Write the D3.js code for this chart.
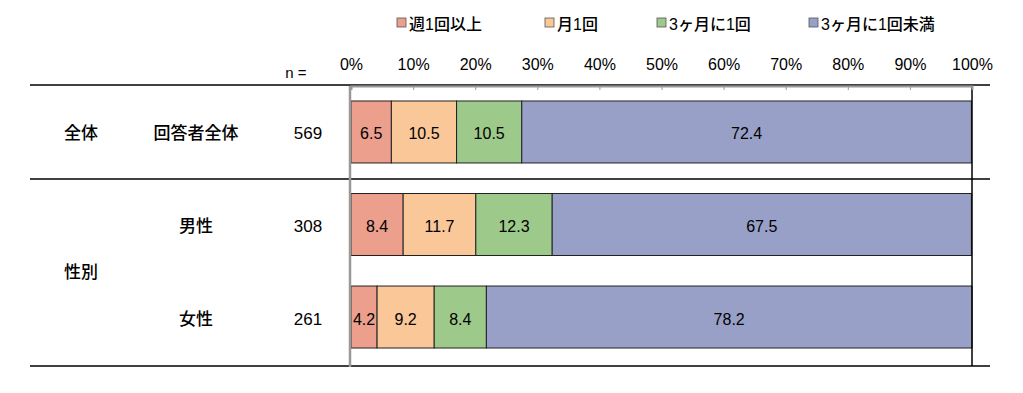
<!DOCTYPE html>
<html>
<head>
<meta charset="utf-8">
<script src="https://cdn.jsdelivr.net/npm/d3@7"></script>
<style>
  body { margin: 0; background: #fff; }
  text { font-family: "Liberation Sans", Arial, "Noto Sans CJK JP", sans-serif; fill: #000; }
  .jp { font-family: "Liberation Sans", "Noto Sans CJK JP", sans-serif; font-weight: 500; }
</style>
</head>
<body>
<div id="chart"></div>
<script>
const categories = ["週1回以上", "月1回", "3ヶ月に1回", "3ヶ月に1回未満"];
const rowKeys = ["all", "male", "female"];
const rowGroups = ["全体", "", ""];
const rowLabels = ["回答者全体", "男性", "女性"];
const rowN = [569, 308, 261];
const weekly = [6.5, 8.4, 4.2];
const monthly = [10.5, 11.7, 9.2];
const quarterly = [10.5, 12.3, 8.4];
const lessQuarterly = [72.4, 67.5, 78.2];
const tickValues = [0, 10, 20, 30, 40, 50, 60, 70, 80, 90, 100];

const width = 1023, height = 393;
const plot = { left: 351, right: 972, top: 86, bottom: 367 };

const svg = d3.select("#chart").append("svg")
  .attr("width", width).attr("height", height);

const color = d3.scaleOrdinal()
  .domain(categories)
  .range(["#eb9f8c", "#f9c798", "#9dc98a", "#99a0c8"]);

const x = d3.scaleLinear().domain([0, 100]).range([plot.left, plot.right]);
const y = d3.scaleBand().domain(rowKeys).range([plot.top, 363])
  .paddingInner(0.33).paddingOuter(0.162);

const data = rowKeys.map((k, i) => ({
  key: k,
  [categories[0]]: weekly[i],
  [categories[1]]: monthly[i],
  [categories[2]]: quarterly[i],
  [categories[3]]: lessQuarterly[i]
}));
const series = d3.stack().keys(categories)(data);

// table lines
[85, 179, 366].forEach(yy => {
  svg.append("line").attr("x1", 30).attr("x2", 990)
    .attr("y1", yy).attr("y2", yy)
    .attr("stroke", "#000").attr("stroke-width", 1.5);
});

// bars
series.forEach(s => {
  svg.append("g").selectAll("rect").data(s).join("rect")
    .attr("x", d => x(d[0]))
    .attr("y", d => y(d.data.key))
    .attr("width", d => x(d[1]) - x(d[0]))
    .attr("height", y.bandwidth())
    .attr("fill", color(s.key))
    .attr("stroke", "#222").attr("stroke-width", 1);
  svg.append("g").selectAll("text").data(s).join("text")
    .attr("x", d => (x(d[0]) + x(d[1])) / 2)
    .attr("y", d => y(d.data.key) + y.bandwidth() / 2 + 2)
    .attr("text-anchor", "middle").attr("dominant-baseline", "central")
    .style("font-size", "16px")
    .text(d => (d[1] - d[0]).toFixed(1));
});

// right border
svg.append("line").attr("x1", plot.right).attr("x2", plot.right)
  .attr("y1", plot.top).attr("y2", plot.bottom - 1)
  .attr("stroke", "#000").attr("stroke-width", 1.5);

// top axis
const axis = svg.append("g").attr("transform", `translate(0,${plot.top})`)
  .call(d3.axisTop(x).tickValues(tickValues).tickSize(-4).tickFormat(d => d + "%"));
axis.select(".domain").attr("stroke", "#999").attr("stroke-width", 2);
axis.selectAll(".tick line").attr("stroke", "#999");
axis.selectAll("text").style("font-size", "16px").attr("y", -16);

// left axis line
svg.append("line").attr("x1", plot.left - 1).attr("x2", plot.left - 1)
  .attr("y1", plot.top).attr("y2", plot.bottom)
  .attr("stroke", "#999").attr("stroke-width", 2.5);

// n header
svg.append("text").attr("x", 296).attr("y", 78)
  .attr("text-anchor", "middle").style("font-size", "15px").text("n =");

// row labels
rowKeys.forEach((k, i) => {
  const cy = y(k) + y.bandwidth() / 2 + 2;
  if (rowGroups[i]) {
    svg.append("text").attr("class", "jp").attr("x", 81).attr("y", cy)
      .attr("text-anchor", "middle").attr("dominant-baseline", "central")
      .style("font-size", "17px").text(rowGroups[i]);
  }
  svg.append("text").attr("class", "jp").attr("x", 196).attr("y", cy)
    .attr("text-anchor", "middle").attr("dominant-baseline", "central")
    .style("font-size", "17px").text(rowLabels[i]);
  svg.append("text").attr("x", 308).attr("y", cy)
    .attr("text-anchor", "middle").attr("dominant-baseline", "central")
    .style("font-size", "17px").text(rowN[i]);
});
// group label for gender rows
svg.append("text").attr("class", "jp").attr("x", 81)
  .attr("y", (y("male") + y("female") + y.bandwidth()) / 2 + 2)
  .attr("text-anchor", "middle").attr("dominant-baseline", "central")
  .style("font-size", "17px").text("性別");

// legend
const legendX = [397, 545, 657, 809];
categories.forEach((c, i) => {
  const g = svg.append("g").attr("transform", `translate(${legendX[i]},23)`);
  g.append("rect").attr("x", 0).attr("y", -5).attr("width", 9).attr("height", 9)
    .attr("fill", color(c)).attr("stroke", "#555").attr("stroke-width", 0.8);
  g.append("text").attr("class", "jp").attr("x", 12).attr("y", 1)
    .attr("dominant-baseline", "central").style("font-size", "16px").text(c);
});
</script>
</body>
</html>
